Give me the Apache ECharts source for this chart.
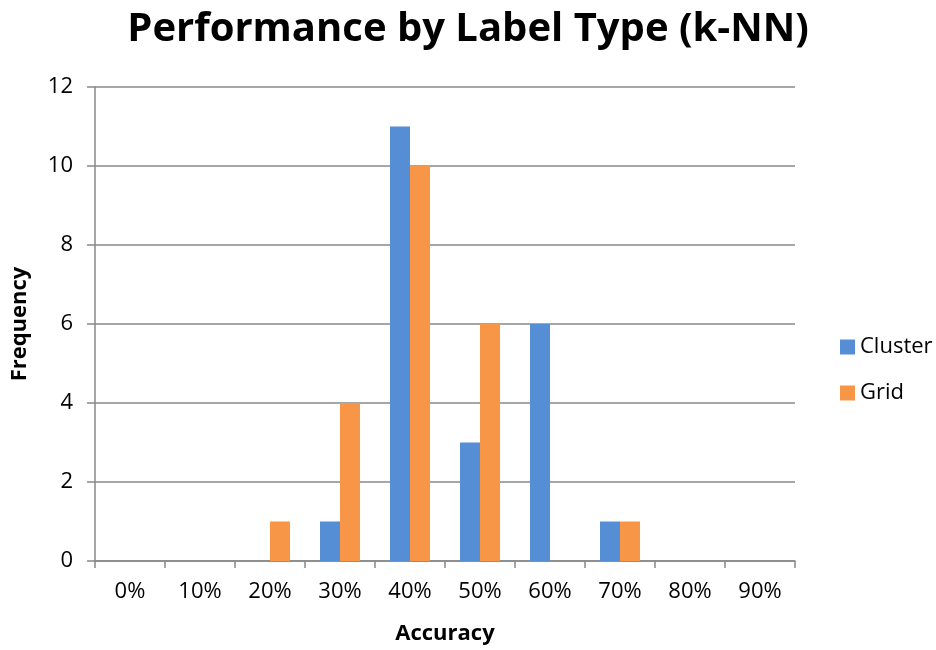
<!DOCTYPE html>
<html><head><meta charset="utf-8">
<script src="https://cdn.jsdelivr.net/npm/echarts@6/dist/echarts.min.js"></script>
<style>html,body{margin:0;padding:0;background:#fff}#c{width:936px;height:650px}</style>
</head><body><div id="c"></div>
<script>
const categories = ['0%','10%','20%','30%','40%','50%','60%','70%','80%','90%'];
const cluster = [0,0,0,1,11,3,6,1,0,0];
const grid = [0,0,1,4,10,6,0,1,0,0];
const FONT = '"Open Sans", "Liberation Sans", sans-serif';
const chart = echarts.init(document.getElementById('c'));
chart.setOption({
  animation:false,
  textStyle:{fontFamily:FONT},
  title:{text:'Performance by Label Type (k-NN)', left:'center', top:5,
    textStyle:{fontSize:40, fontWeight:'bold', color:'#000', fontFamily:FONT}},
  legend:{orient:'vertical', left:835, top:331, itemWidth:15, itemHeight:15, itemGap:24,
    icon:'rect', textStyle:{fontSize:22, color:'#000', fontFamily:FONT},
    data:['Cluster','Grid']},
  grid:{left:95, right:141, top:87, bottom:89, containLabel:false},
  xAxis:{type:'category', data:categories, name:'Accuracy', nameLocation:'middle', nameGap:62,
    nameTextStyle:{fontSize:22, fontWeight:'bold', color:'#000'},
    axisLine:{lineStyle:{color:'#888', width:1.5}},
    axisTick:{show:true, length:7, lineStyle:{color:'#888', width:1.5}},
    axisLabel:{fontSize:22, color:'#000', margin:20}},
  yAxis:{type:'value', min:0, max:12, interval:2, name:'Frequency', nameLocation:'middle', nameGap:64,
    nameTextStyle:{fontSize:22, fontWeight:'bold', color:'#000'},
    axisLine:{show:true, lineStyle:{color:'#888', width:1.5}},
    axisTick:{show:true, length:8, lineStyle:{color:'#888', width:1.5}},
    axisLabel:{fontSize:22, color:'#000', margin:22},
    splitLine:{lineStyle:{color:'#888', width:1.5}}},
  series:[
    {name:'Cluster', type:'bar', data:cluster, barWidth:20, barGap:'0%', itemStyle:{color:'#558ED5'}},
    {name:'Grid', type:'bar', data:grid, barWidth:20, barGap:'0%', itemStyle:{color:'#F79646'}}
  ]
});
</script></body></html>
